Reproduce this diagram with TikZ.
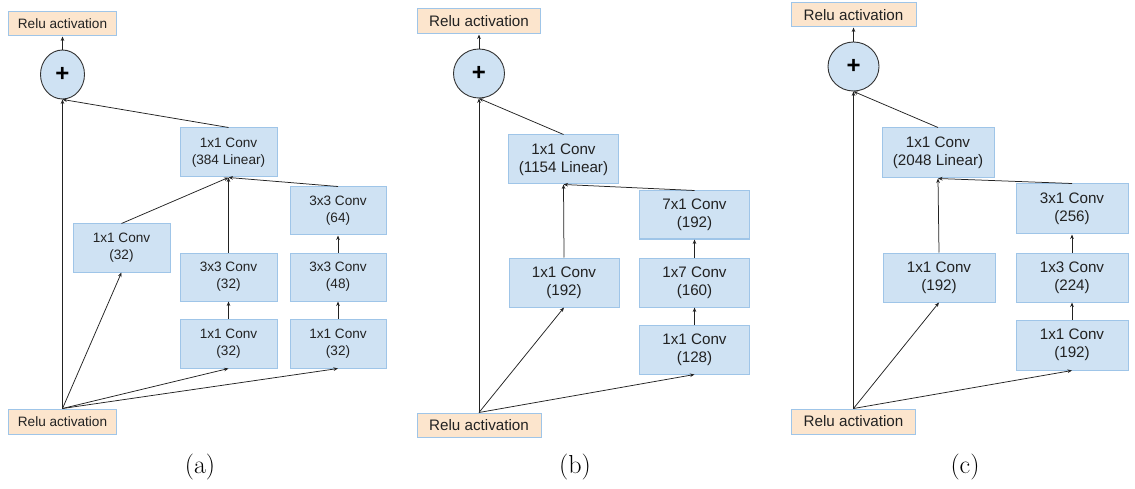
\documentclass[tikz,border=0pt]{standalone}
\usepackage{fontspec}
\setmainfont{Latin Modern Roman}
\newfontfamily\boxfont{Liberation Sans}
\usetikzlibrary{arrows.meta,shapes.geometric}
\definecolor{boxfill}{HTML}{CFE2F3}
\definecolor{boxline}{HTML}{9FC5E8}
\definecolor{relufill}{HTML}{FCE5CD}
\definecolor{inktext}{HTML}{222222}
\definecolor{circline}{HTML}{333333}
\tikzset{
  convbox/.style={draw=boxline, fill=boxfill, line width=1pt, inner sep=0pt, align=center, text=inktext},
  relubox/.style={draw=boxline, fill=relufill, line width=1pt, inner sep=0pt, align=center, text=inktext},
  addnode/.style={ellipse, draw=circline, fill=boxfill, line width=0.9pt, inner sep=0pt, text=black},
  conn/.style={draw=inktext, line width=0.75pt, -{Stealth[length=4.5pt,width=3.6pt]}},
  fa/.style={font=\boxfont\fontsize{13.6}{17}\selectfont},
  fb/.style={font=\boxfont\fontsize{15.2}{18.3}\selectfont},
  plusfont/.style={font=\boxfont\bfseries\fontsize{24}{24}\selectfont},
  caption/.style={font=\fontsize{26}{26}\selectfont, inner sep=0pt}
}
\begin{document}
\begin{tikzpicture}[x=1pt,y=-1pt]
\useasboundingbox (0,0) rectangle (1135,489);
% ---------- panel (a) ----------
\node[relubox, fa, minimum width=108pt, minimum height=24pt] (rtA) at (62.5,24) {Relu activation};
\node[addnode, plusfont, minimum width=44pt, minimum height=49pt] (addA) at (62.5,74.5) {+};
\node[convbox, fa, minimum width=97pt, minimum height=49pt] (linA) at (228.5,152.5) {1x1 Conv\\(384 Linear)};
\node[convbox, fa, minimum width=96pt, minimum height=48pt] (c64A) at (338,211) {3x3 Conv\\(64)};
\node[convbox, fa, minimum width=97pt, minimum height=48pt] (c32LA) at (121.5,248) {1x1 Conv\\(32)};
\node[convbox, fa, minimum width=97pt, minimum height=48pt] (c33A) at (228.5,277) {3x3 Conv\\(32)};
\node[convbox, fa, minimum width=96pt, minimum height=48pt] (c48A) at (338,277) {3x3 Conv\\(48)};
\node[convbox, fa, minimum width=97pt, minimum height=49pt] (c11mA) at (228.5,343.5) {1x1 Conv\\(32)};
\node[convbox, fa, minimum width=96pt, minimum height=49pt] (c11rA) at (338,343.5) {1x1 Conv\\(32)};
\node[relubox, fa, minimum width=108pt, minimum height=25pt] (rbA) at (62.5,421.5) {Relu activation};
\node[caption] (capA) at (200,467) {(a)};
\draw[conn] (rbA.north) -- (addA.south);
\draw[conn] (rbA.north) -- (c32LA.south);
\draw[conn] (rbA.north) -- (c11mA.south);
\draw[conn] (rbA.north) -- (c11rA.south);
\draw[conn] (c11mA.north) -- (c33A.south);
\draw[conn] (c11rA.north) -- (c48A.south);
\draw[conn] (c48A.north) -- (c64A.south);
\draw[conn] (c32LA.north) -- (linA.south);
\draw[conn] (c33A.north) -- (linA.south);
\draw[conn] (c64A.north) -- (linA.south);
\draw[conn] (linA.north) -- (addA.south);
\draw[conn] (addA.north) -- (rtA.south);
% ---------- panel (b) ----------
\node[relubox, fb, minimum width=123pt, minimum height=25pt] (rtB) at (479,21.5) {Relu activation};
\node[addnode, plusfont, minimum width=51pt, minimum height=49pt] (addB) at (479,73.5) {+};
\node[convbox, fb, minimum width=110pt, minimum height=49pt] (linB) at (563.5,159.5) {1x1 Conv\\(1154 Linear)};
\node[convbox, fb, minimum width=110pt, minimum height=48pt] (c71B) at (694.5,215) {7x1 Conv\\(192)};
\node[convbox, fb, minimum width=110pt, minimum height=49pt] (c11B) at (564,282.5) {1x1 Conv\\(192)};
\node[convbox, fb, minimum width=110pt, minimum height=49pt] (c17B) at (694.5,282.5) {1x7 Conv\\(160)};
\node[convbox, fb, minimum width=110pt, minimum height=49pt] (c128B) at (694.5,349.5) {1x1 Conv\\(128)};
\node[relubox, fb, minimum width=124pt, minimum height=24pt] (rbB) at (479,425) {Relu activation};
\node[caption] (capB) at (575,467) {(b)};
\draw[conn] (rbB.north) -- (addB.south);
\draw[conn] (rbB.north) -- (c11B.south);
\draw[conn] (rbB.north) -- (c128B.south);
\draw[conn] (c128B.north) -- (c17B.south);
\draw[conn] (c17B.north) -- (c71B.south);
\draw[conn] (c11B.north) -- (linB.south);
\draw[conn] (c71B.north) -- (linB.south);
\draw[conn] (linB.north) -- (addB.south);
\draw[conn] (addB.north) -- (rtB.south);
% ---------- panel (c) ----------
\node[relubox, fb, minimum width=125pt, minimum height=24pt] (rtC) at (853.5,15) {Relu activation};
\node[addnode, plusfont, minimum width=51pt, minimum height=49pt] (addC) at (853.5,66.5) {+};
\node[convbox, fb, minimum width=112pt, minimum height=50pt] (linC) at (938,153) {1x1 Conv\\(2048 Linear)};
\node[convbox, fb, minimum width=112pt, minimum height=50pt] (c31C) at (1072,209) {3x1 Conv\\(256)};
\node[convbox, fb, minimum width=112pt, minimum height=49pt] (c11C) at (939,277.5) {1x1 Conv\\(192)};
\node[convbox, fb, minimum width=112pt, minimum height=49pt] (c13C) at (1072,277.5) {1x3 Conv\\(224)};
\node[convbox, fb, minimum width=112pt, minimum height=50pt] (c192C) at (1072,345) {1x1 Conv\\(192)};
\node[relubox, fb, minimum width=124pt, minimum height=25pt] (rbC) at (853.5,421.5) {Relu activation};
\node[caption] (capC) at (965,467) {(c)};
\draw[conn] (rbC.north) -- (addC.south);
\draw[conn] (rbC.north) -- (c11C.south);
\draw[conn] (rbC.north) -- (c192C.south);
\draw[conn] (c192C.north) -- (c13C.south);
\draw[conn] (c13C.north) -- (c31C.south);
\draw[conn] (c11C.north) -- (linC.south);
\draw[conn] (c31C.north) -- (linC.south);
\draw[conn] (linC.north) -- (addC.south);
\draw[conn] (addC.north) -- (rtC.south);
\end{tikzpicture}
\end{document}
